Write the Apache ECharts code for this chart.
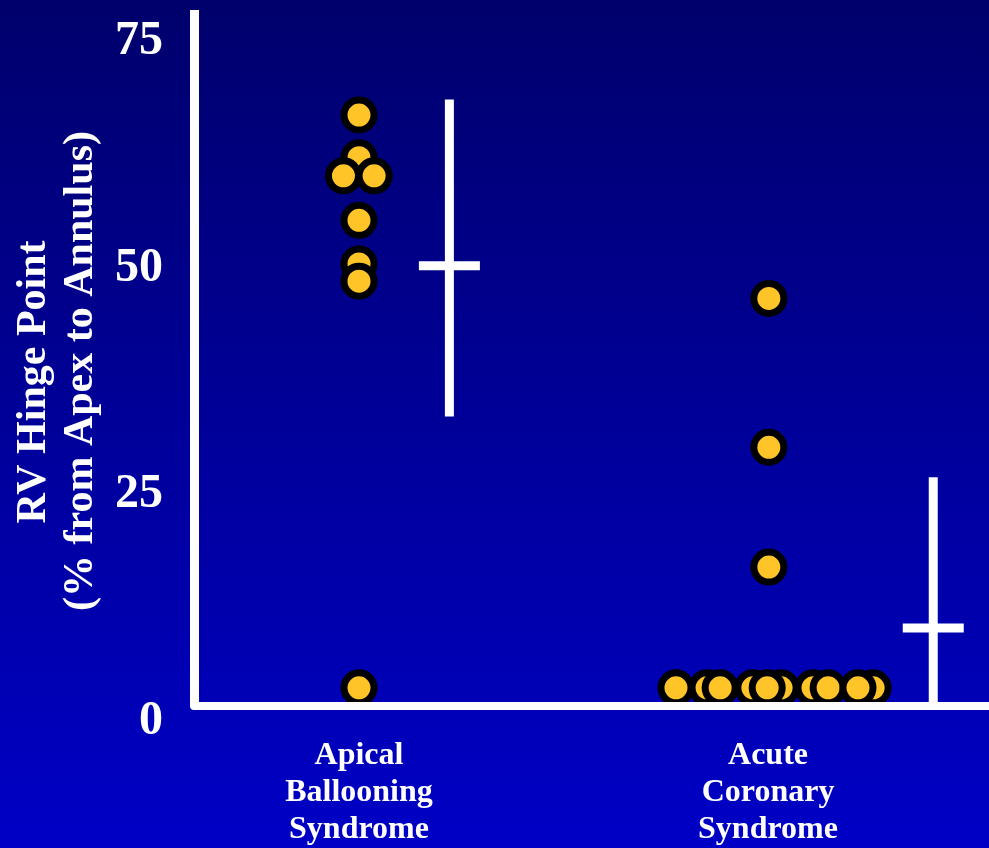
<!DOCTYPE html>
<html>
<head>
<meta charset="utf-8">
<script src="https://cdn.jsdelivr.net/npm/echarts@6/dist/echarts.min.js"></script>
<style>
  html, body { margin: 0; padding: 0; }
  #chart { width: 989px; height: 848px; }
</style>
</head>
<body>
<div id="chart"></div>
<script>
// groups sit at x = 1 and x = 2, dots are jittered around them
const categories = ['Apical Ballooning Syndrome', 'Acute Coronary Syndrome']
const yTicks = [0, 25, 50, 75]

const absX = [1, 1, 0.962, 1.037, 1, 1, 1, 1]
const absY = [65.1, 60.4, 58.4, 58.4, 53.5, 48.7, 46.8, 2.0]

const acsX = [1.851, 1.963, 2.032, 2.110, 2.257, 1.775, 1.883, 1.998, 2.147, 2.220, 2.002, 2.002, 2.002]
const acsY = [2, 2, 2, 2, 2, 2, 2, 2, 2, 2, 44.9, 28.5, 15.3]

// mean and spread bars: [x, mean, low, high]
const barX = [1.221, 2.404]
const barMean = [48.5, 8.6]
const barLow = [31.9, 0]
const barHigh = [66.8, 25.2]

const font = 'Liberation Serif'
const chart = echarts.init(document.getElementById('chart'))

const dotStyle = {
  color: '#FFC428',
  borderColor: '#000',
  borderWidth: 7,
  opacity: 1
}

const nameStyle = {
  fill: '#fff',
  font: 'bold 42px "Liberation Serif"',
  align: 'center',
  verticalAlign: 'middle'
}

const option = {
  animation: false,
  backgroundColor: {
    type: 'linear', x: 0, y: 0, x2: 0, y2: 1,
    colorStops: [
      { offset: 0, color: '#00006c' },
      { offset: 1, color: '#0000c6' }
    ]
  },
  grid: { left: 194, right: 0, top: 10, bottom: 140 },
  xAxis: {
    type: 'value',
    min: 0.5966,
    max: 2.5403,
    z: 5,
    splitLine: { show: false },
    axisTick: { show: false },
    axisLine: { lineStyle: { color: '#fff', width: 8 } },
    axisLabel: {
      customValues: [1, 2],
      margin: 31,
      color: '#fff',
      fontFamily: font,
      fontWeight: 'bold',
      fontSize: 32,
      lineHeight: 37,
      align: 'center',
      formatter: v => {
        const name = categories[Math.round(v) - 1]
        return name ? name.replace(/ /g, '\n') : ''
      }
    }
  },
  yAxis: {
    type: 'value',
    min: 0,
    max: 76.67,
    z: 5,
    splitLine: { show: false },
    axisTick: { show: false },
    axisLine: { lineStyle: { color: '#fff', width: 9, cap: 'butt' } },
    axisLabel: {
      customValues: yTicks,
      margin: 31,
      color: '#fff',
      fontFamily: font,
      fontWeight: 'bold',
      fontSize: 48,
      verticalAlign: 'top',
      lineHeight: 32
    }
  },
  graphic: [
    {
      type: 'text',
      x: 34,
      y: 382,
      rotation: Math.PI / 2,
      style: Object.assign({ text: 'RV Hinge Point' }, nameStyle)
    },
    {
      type: 'text',
      x: 81,
      y: 371,
      rotation: Math.PI / 2,
      style: Object.assign({ text: '(% from Apex to Annulus)' }, nameStyle)
    }
  ],
  series: [
    {
      type: 'custom',
      z: 3,
      data: barX.map((x, i) => [x, barMean[i], barLow[i], barHigh[i]]),
      renderItem: (params, api) => {
        const top = api.coord([api.value(0), api.value(3)])
        const bottom = api.coord([api.value(0), api.value(2)])
        const mid = api.coord([api.value(0), api.value(1)])
        return {
          type: 'group',
          children: [
            {
              type: 'rect',
              shape: { x: top[0] - 4.5, y: top[1], width: 9, height: bottom[1] - top[1] },
              style: { fill: '#fff' }
            },
            {
              type: 'rect',
              shape: { x: mid[0] - 30.5, y: mid[1] - 4.5, width: 61, height: 9 },
              style: { fill: '#fff' }
            }
          ]
        }
      }
    },
    {
      type: 'scatter',
      symbolSize: 30,
      itemStyle: dotStyle,
      data: absX.map((x, i) => [x, absY[i]])
    },
    {
      type: 'scatter',
      symbolSize: 30,
      itemStyle: dotStyle,
      data: acsX.map((x, i) => [x, acsY[i]])
    }
  ]
}

chart.setOption(option)
</script>
</body>
</html>
